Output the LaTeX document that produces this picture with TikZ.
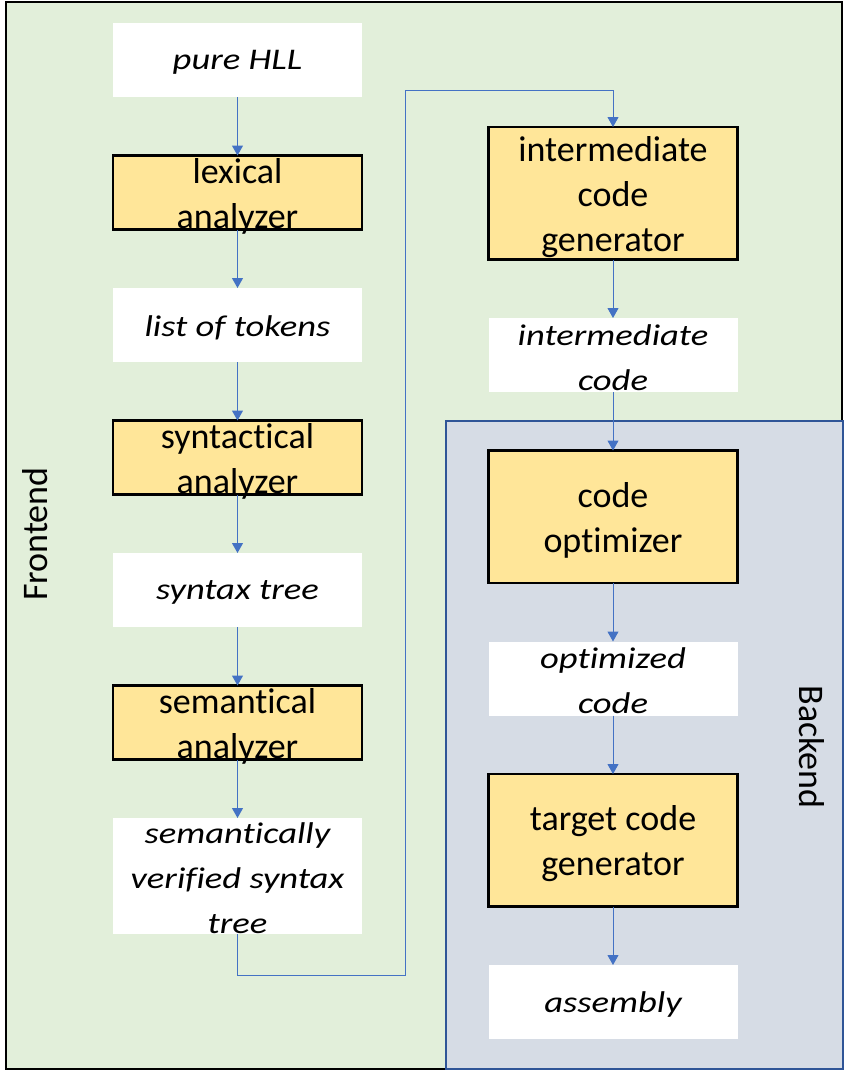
\documentclass[tikz,border=0pt]{standalone}
\usepackage{fontspec}
\setmainfont[Ligatures=NoCommon]{Carlito}
\newfontfamily\widefont[FakeStretch=1.22,Ligatures=NoCommon]{Carlito}
\usetikzlibrary{positioning,arrows.meta}

\definecolor{frontfill}{HTML}{E2EFDA}
\definecolor{backfill}{HTML}{D6DCE5}
\definecolor{backline}{HTML}{2F5597}
\definecolor{procfill}{HTML}{FFE699}
\definecolor{flowline}{HTML}{4472C4}

\begin{document}
\begin{tikzpicture}[
                    x=1pt, y=-1pt,
                    node distance=58.5pt,
                    box/.style={rectangle, minimum width=249pt, minimum height=74pt, inner sep=0pt, outer sep=0pt},
                    proc/.style={box, fill=procfill, draw=black, line width=2.5pt},
                    data/.style={box, fill=white},
                    tall/.style={minimum height=132.5pt},
                    proctext/.style={font=\fontsize{36}{45}\selectfont, align=center, inner sep=0pt, yshift=-3.5pt},
                    datatext/.style={font=\widefont\itshape\fontsize{30}{45}\selectfont, align=center, inner sep=0pt, yshift=-2.5pt},
                    flow/.style={draw=flowline, line width=1pt, -{Triangle[width=11pt,length=10pt]}},
                    area/.style={font=\fontsize{36}{45}\selectfont, inner sep=0pt}
                ]

                \useasboundingbox (0,0) rectangle (847,1072);

                % Frontend / Backend areas
                \draw[fill=frontfill, draw=black, line width=1.5pt] (6,2) rectangle (842,1069);
                \draw[fill=backfill, draw=backline, line width=1.5pt] (446,421) rectangle (843,1069);
                \node[area, rotate=90] (front) at (35,534) {Frontend};
                \node[area, rotate=-90] (back) at (812,747) {Backend};

                % Frontend column
                \node[data, label={[datatext]center:pure HLL}] (hll) at (237.5,60) {};
                \node[proc, below=of hll, label={[proctext]center:{lexical\\analyzer}}] (lex) {};
                \node[data, below=of lex, label={[datatext]center:list of tokens}] (tokens) {};
                \node[proc, below=of tokens, label={[proctext]center:{syntactical\\analyzer}}] (syn) {};
                \node[data, below=of syn, label={[datatext]center:syntax tree}] (tree) {};
                \node[proc, below=of tree, label={[proctext]center:{semantical\\analyzer}}] (sem) {};
                \node[data, minimum height=116pt, below=of sem,
                      label={[datatext]center:{semantically\\verified syntax\\tree}}] (verified) {};

                % Backend column
                \node[proc, tall, label={[proctext]center:{intermediate\\code\\generator}}] (igen) at (613,193.25) {};
                \node[data, below=of igen, label={[datatext]center:{intermediate\\code}}] (icode) {};
                \node[proc, tall, below=of icode, label={[proctext]center:{code\\optimizer}}] (opt) {};
                \node[data, below=of opt, label={[datatext]center:{optimized\\code}}] (ocode) {};
                \node[proc, tall, below=of ocode, label={[proctext]center:{target code\\generator}}] (tgen) {};
                \node[data, below=of tgen, label={[datatext]center:assembly}] (asm) {};

                % Arrows
                \draw[flow] (hll) -- (lex);
                \draw[flow] (lex) -- (tokens);
                \draw[flow] (tokens) -- (syn);
                \draw[flow] (syn) -- (tree);
                \draw[flow] (tree) -- (sem);
                \draw[flow] (sem) -- (verified);

                \coordinate (loopdown) at (405,975);
                \coordinate (loopup) at (405,90);
                \draw[flow] (verified.south) |- (loopdown) -- (loopup) -| (igen.north);

                \draw[flow] (igen) -- (icode);
                \draw[flow] (icode) -- (opt);
                \draw[flow] (opt) -- (ocode);
                \draw[flow] (ocode) -- (tgen);
                \draw[flow] (tgen) -- (asm);

                \end{tikzpicture}
\end{document}
